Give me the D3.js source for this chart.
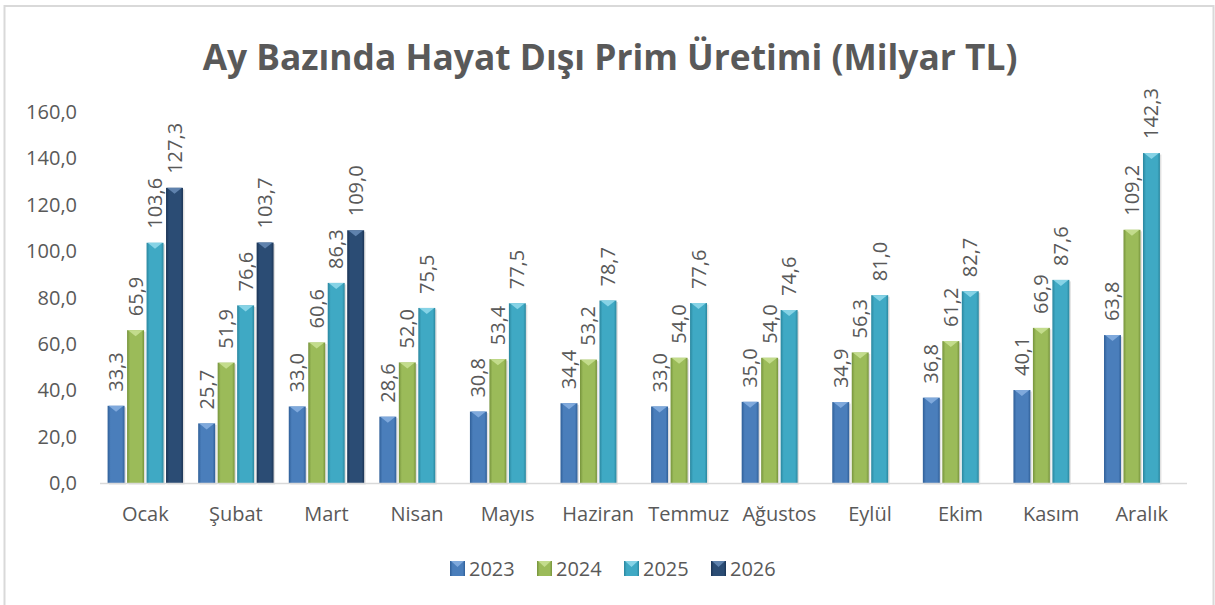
<!DOCTYPE html>
<html>
<head>
<meta charset="utf-8">
<script src="https://cdn.jsdelivr.net/npm/d3@7"></script>
<style>
  body { margin: 0; background: #fff; }
  text { font-family: 'Open Sans', 'Noto Sans', sans-serif; fill: #595959; }
</style>
</head>
<body>
<div id="chart"></div>
<script>
// Chart data
var months = ['Ocak', 'Şubat', 'Mart', 'Nisan', 'Mayıs', 'Haziran', 'Temmuz', 'Ağustos', 'Eylül', 'Ekim', 'Kasım', 'Aralık'];
var years = ['2023', '2024', '2025', '2026'];
var v2023 = [33.3, 25.7, 33.0, 28.6, 30.8, 34.4, 33.0, 35.0, 34.9, 36.8, 40.1, 63.8];
var v2024 = [65.9, 51.9, 60.6, 52.0, 53.4, 53.2, 54.0, 54.0, 56.3, 61.2, 66.9, 109.2];
var v2025 = [103.6, 76.6, 86.3, 75.5, 77.5, 78.7, 77.6, 74.6, 81.0, 82.7, 87.6, 142.3];
var v2026 = [127.3, 103.7, 109.0, null, null, null, null, null, null, null, null, null];
var yTicks = [0, 20, 40, 60, 80, 100, 120, 140, 160];
var title = 'Ay Bazında Hayat Dışı Prim Üretimi (Milyar TL)';

var series = [v2023, v2024, v2025, v2026];
var fills = {
    '2023': { base: '#4a7ebb', dark: '#2f5f98', light: '#7fa9dc' },
    '2024': { base: '#9bbb59', dark: '#76933c', light: '#c3dc8c' },
    '2025': { base: '#3fa9c4', dark: '#2a869e', light: '#86d3e6' },
    '2026': { base: '#2b4c74', dark: '#1b3455', light: '#5f82ad' }
};

const dims = { 'width': 1215, 'height': 605 };
var fmt = d => d3.format('.1f')(d).replace('.', ',');

var svg = d3.select('#chart')
    .append('svg')
    .attr('width', dims.width)
    .attr('height', dims.height);

var defs = svg.append('defs');
years.forEach(y => {
    var g = defs.append('linearGradient')
        .attr('id', 'grad' + y)
        .attr('x1', 0).attr('x2', 1).attr('y1', 0).attr('y2', 0);
    g.append('stop').attr('offset', '0%').attr('stop-color', fills[y].dark);
    g.append('stop').attr('offset', '18%').attr('stop-color', fills[y].base);
    g.append('stop').attr('offset', '50%').attr('stop-color', fills[y].base);
    g.append('stop').attr('offset', '85%').attr('stop-color', fills[y].base);
    g.append('stop').attr('offset', '100%').attr('stop-color', fills[y].dark);
});

// outer frame
svg.append('rect')
    .attr('x', 4.5).attr('y', 6)
    .attr('width', 1209).attr('height', 610)
    .attr('fill', 'none')
    .attr('stroke', '#d9d9d9')
    .attr('stroke-width', 2);

var x0 = d3.scaleBand()
    .domain(months)
    .range([100, 1187]);

var x1 = d3.scaleBand()
    .domain(years)
    .range([0, x0.bandwidth()])
    .paddingInner(0.13)
    .paddingOuter(0.39);

var y = d3.scaleLinear()
    .domain([0, 160])
    .range([483, 112]);

// title, fitted to the reference width
var titleText = svg.append('text')
    .attr('x', 610)
    .attr('y', 70)
    .attr('text-anchor', 'middle')
    .attr('font-weight', 'bold')
    .attr('font-size', 32)
    .text(title);
var tw = titleText.node().getComputedTextLength();
titleText.attr('font-size', 32 * 815 / tw);

// y axis labels
svg.append('g')
    .selectAll('.y-tick')
    .data(yTicks)
    .join('text')
    .classed('y-tick', true)
    .attr('x', 77)
    .attr('y', d => y(d))
    .attr('dy', '0.35em')
    .attr('text-anchor', 'end')
    .attr('font-size', 20)
    .text(fmt);

// bars
var rows = [];
months.forEach((m, i) => {
    years.forEach((yr, j) => {
        if (series[j][i] != null) {
            rows.push({ month: m, year: yr, value: series[j][i] });
        }
    });
});

var barsG = svg.append('g');

barsG.selectAll('.shadow')
    .data(rows)
    .join('rect')
    .classed('shadow', true)
    .attr('x', d => x0(d.month) + x1(d.year) + 1.5)
    .attr('y', d => y(d.value) + 1.5)
    .attr('width', x1.bandwidth())
    .attr('height', d => y(0) - y(d.value))
    .attr('fill', '#000')
    .attr('opacity', 0.12);

barsG.selectAll('.bar')
    .data(rows)
    .join('rect')
    .classed('bar', true)
    .attr('x', d => x0(d.month) + x1(d.year))
    .attr('y', d => y(d.value))
    .attr('width', x1.bandwidth())
    .attr('height', d => y(0) - y(d.value))
    .attr('fill', d => `url(#grad${d.year})`);

// bevel on the top of each bar
barsG.selectAll('.bevel')
    .data(rows)
    .join('polygon')
    .classed('bevel', true)
    .attr('points', d => {
        var bx = x0(d.month) + x1(d.year);
        var bw = x1.bandwidth();
        var by = y(d.value);
        return `${bx + 1},${by} ${bx + bw - 1},${by} ${bx + bw / 2},${by + 6}`;
    })
    .attr('fill', d => fills[d.year].light);

// axis line
svg.append('line')
    .attr('x1', x0.range()[0])
    .attr('x2', x0.range()[1])
    .attr('y1', y(0) + 0.5)
    .attr('y2', y(0) + 0.5)
    .attr('stroke', '#d9d9d9')
    .attr('stroke-width', 1.5);

// value labels
barsG.selectAll('.val')
    .data(rows)
    .join('text')
    .classed('val', true)
    .attr('transform', d => `translate(${x0(d.month) + x1(d.year) + x1.bandwidth() / 2},${y(d.value) - 14}) rotate(-90)`)
    .attr('dy', '0.35em')
    .attr('font-size', 20)
    .text(d => fmt(d.value));

// month labels
svg.append('g')
    .selectAll('.month')
    .data(months)
    .join('text')
    .classed('month', true)
    .attr('x', d => x0(d) + x0.bandwidth() / 2)
    .attr('y', 521)
    .attr('text-anchor', 'middle')
    .attr('font-size', 20)
    .text(d => d);

// legend
var legendX = d3.scalePoint()
    .domain(years)
    .range([450, 711]);

var legendG = svg.append('g');

legendG.selectAll('.leg-box')
    .data(years)
    .join('rect')
    .classed('leg-box', true)
    .attr('x', d => legendX(d))
    .attr('y', 561)
    .attr('width', 15)
    .attr('height', 15)
    .attr('fill', d => `url(#grad${d})`);

legendG.selectAll('.leg-bevel')
    .data(years)
    .join('polygon')
    .classed('leg-bevel', true)
    .attr('points', d => `${legendX(d) + 1},561 ${legendX(d) + 14},561 ${legendX(d) + 7.5},567`)
    .attr('fill', d => fills[d].light);

legendG.selectAll('.leg-text')
    .data(years)
    .join('text')
    .classed('leg-text', true)
    .attr('x', d => legendX(d) + 19)
    .attr('y', 569)
    .attr('dy', '0.35em')
    .attr('font-size', 20)
    .text(d => d);
</script>
</body>
</html>
